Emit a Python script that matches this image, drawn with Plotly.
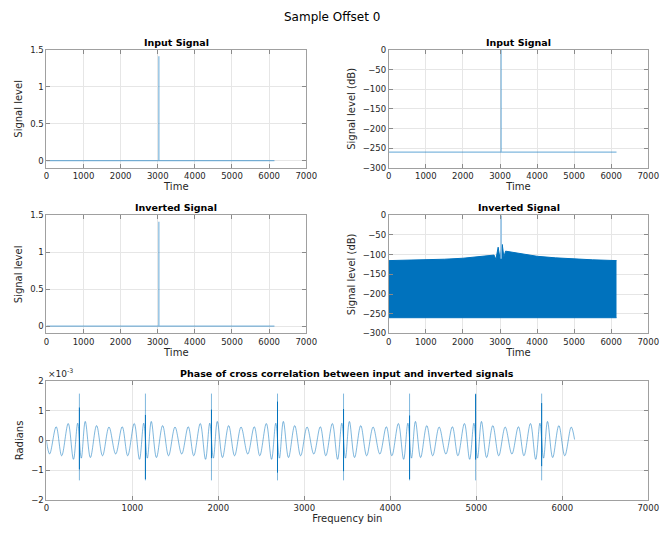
import plotly.graph_objects as go

FONT = "DejaVu Sans"
BLUE = "#0072BD"
LIGHT = "rgba(0,114,189,0.5)"

# ---- time-domain traces (sample index vs level) ----
time_samples = [0, 3029, 3030, 3031, 6143]
input_level = [0.0, 0.0, 1.414, 0.0, 0.0]
inverted_level = [0.0, 0.0, 1.414, 0.0, 0.0]
input_level_db = [-260, -260, 0, -260, -260]

# ---- inverted signal in dB: floor and upper envelope of the dense trace ----
inv_floor_bins = [0, 6143]
inv_floor_db = [-260, -260]
inv_env_bins = [0, 500, 1000, 1500, 2000, 2400, 2700, 2840, 2890, 2950, 2995,
                3015, 3060, 3105, 3150, 3300, 3500, 4000, 4500, 5000, 5500, 6143]
inv_env_db = [-115, -114, -113, -111.5, -109, -106, -103, -101, -112, -81, -107,
              -100, -74, -106, -91, -93, -97, -104, -108, -111, -113, -115]
inv_peak_bins = [3030, 3030]
inv_peak_db = [-110, 0]

# ---- phase of the cross correlation (x1e-3 rad), turning points of the ripple ----
phase_bins = [
    0, 38, 114, 178, 254, 315, 364, 406, 452, 512, 584, 653, 728,
    806, 882, 946, 1022, 1083, 1132, 1174, 1220, 1280, 1352, 1421, 1496,
    1574, 1650, 1714, 1790, 1851, 1900, 1942, 1988, 2048, 2120, 2189, 2264,
    2342, 2418, 2482, 2558, 2619, 2668, 2710, 2756, 2816, 2888, 2957, 3032,
    3110, 3186, 3250, 3326, 3387, 3436, 3478, 3524, 3584, 3656, 3725, 3800,
    3878, 3954, 4018, 4094, 4155, 4204, 4246, 4292, 4352, 4424, 4493, 4568,
    4646, 4722, 4786, 4862, 4923, 4972, 5014, 5060, 5120, 5192, 5261, 5336,
    5414, 5490, 5554, 5630, 5691, 5740, 5782, 5828, 5888, 5960, 6029, 6104,
    6143,
]
phase_mrad = [
    0.0, -0.46, 0.46, -0.52, 0.57, -0.64, 0.58, -0.60, 0.64, -0.58, 0.50, -0.52, 0.45,
    -0.46, 0.46, -0.52, 0.57, -0.64, 0.58, -0.60, 0.64, -0.58, 0.50, -0.52, 0.45,
    -0.46, 0.46, -0.52, 0.57, -0.64, 0.58, -0.60, 0.64, -0.58, 0.50, -0.52, 0.45,
    -0.46, 0.46, -0.52, 0.57, -0.64, 0.58, -0.60, 0.64, -0.58, 0.50, -0.52, 0.45,
    -0.46, 0.46, -0.52, 0.57, -0.64, 0.58, -0.60, 0.64, -0.58, 0.50, -0.52, 0.45,
    -0.46, 0.46, -0.52, 0.57, -0.64, 0.58, -0.60, 0.64, -0.58, 0.50, -0.52, 0.45,
    -0.46, 0.46, -0.52, 0.57, -0.64, 0.58, -0.60, 0.64, -0.58, 0.50, -0.52, 0.45,
    -0.46, 0.46, -0.52, 0.57, -0.64, 0.58, -0.60, 0.64, -0.58, 0.50, -0.52, 0.45,
    0.03,
]

# spikes in the phase trace
spike_bins = [384, 1152, 1920, 2688, 3456, 4224, 4992, 5760]
spike_top = [1.58, 1.58, 1.58, 1.58, 1.58, 1.58, 1.58, 1.58]
spike_bottom = [-1.35, -1.35, -1.35, -1.35, -1.35, -1.35, -1.35, -1.35]
spike_dense_top = [1.11, 0.86, 1.04, 1.31, 1.06, 0.84, 1.56, 1.26]
spike_dense_bottom = [-0.98, -1.31, -0.60, -1.09, -1.04, -1.31, -0.65, -0.87]

x_ticks = [0, 1000, 2000, 3000, 4000, 5000, 6000, 7000]


def vsegments(xs, lo, hi):
    px, py = [], []
    for x, a, b in zip(xs, lo, hi):
        px += [x, x, None]
        py += [a, b, None]
    return px, py


fig = go.Figure()

# panel 1: input signal, linear
fig.add_trace(go.Scatter(x=time_samples, y=input_level, mode="lines",
                         line=dict(color=LIGHT, width=1.2), xaxis="x", yaxis="y"))
# panel 2: input signal, dB
fig.add_trace(go.Scatter(x=time_samples, y=input_level_db, mode="lines",
                         line=dict(color=LIGHT, width=1.2), xaxis="x2", yaxis="y2"))
# panel 3: inverted signal, linear
fig.add_trace(go.Scatter(x=time_samples, y=inverted_level, mode="lines",
                         line=dict(color=LIGHT, width=1.2), xaxis="x3", yaxis="y3"))
# panel 4: inverted signal, dB (dense oscillation drawn as a filled band)
fig.add_trace(go.Scatter(x=inv_floor_bins, y=inv_floor_db, mode="lines",
                         line=dict(color=BLUE, width=1), xaxis="x4", yaxis="y4"))
fig.add_trace(go.Scatter(x=inv_env_bins, y=inv_env_db, mode="lines", fill="tonexty",
                         fillcolor=BLUE, line=dict(color=BLUE, width=1),
                         xaxis="x4", yaxis="y4"))
fig.add_trace(go.Scatter(x=inv_peak_bins, y=inv_peak_db, mode="lines",
                         line=dict(color="rgba(140,190,228,1)", width=1.5),
                         xaxis="x4", yaxis="y4"))
# panel 5: phase of cross correlation
fig.add_trace(go.Scatter(x=phase_bins, y=phase_mrad, mode="lines",
                         line=dict(color=LIGHT, width=1, shape="spline", smoothing=1.0),
                         xaxis="x5", yaxis="y5"))
sx, sy = vsegments(spike_bins, spike_bottom, spike_top)
fig.add_trace(go.Scatter(x=sx, y=sy, mode="lines", line=dict(color=LIGHT, width=1),
                         xaxis="x5", yaxis="y5"))
dx, dy = vsegments(spike_bins, spike_dense_bottom, spike_dense_top)
fig.add_trace(go.Scatter(x=dx, y=dy, mode="lines", line=dict(color=BLUE, width=1),
                         xaxis="x5", yaxis="y5"))

W, H = 672, 537
L1, R1 = 44.3 / W, 309.7 / W
L2, R2 = 394 / W, 659 / W
rows = [(45.7, 166.0), (214.3, 334.7), (383.3, 504.0)]

TICK_FONT = dict(family=FONT, size=8.5, color="#262626")
LABEL_FONT = dict(family=FONT, size=10, color="#262626")


def ydom(top, bot):
    return [1 - bot / H, 1 - top / H]


def axis_style(**kw):
    d = dict(showline=True, linecolor="#a0a0a0", linewidth=1, mirror="ticks",
             ticks="inside", ticklen=4, tickcolor="#8a8a8a", tickwidth=1,
             showgrid=True, gridcolor="#e6e6e6", gridwidth=1, zeroline=False,
             tickfont=TICK_FONT)
    d.update(kw)
    return d


def xax(domain, anchor, label):
    return axis_style(domain=domain, anchor=anchor, range=[0, 7000], tickvals=x_ticks,
                      title=dict(text=label, standoff=2, font=LABEL_FONT))


def yax(domain, anchor, rng, tv, label, tt=None):
    kw = dict(domain=domain, anchor=anchor, range=rng, tickvals=tv,
              title=dict(text=label, standoff=5, font=LABEL_FONT))
    if tt is not None:
        kw["ticktext"] = tt
    return axis_style(**kw)


lin_ticks = [0, 0.5, 1, 1.5]
lin_text = ["0", "0.5", "1", "1.5"]
db_ticks = [-300, -250, -200, -150, -100, -50, 0]
ph_ticks = [-2, -1, 0, 1, 2]

fig.update_layout(
    width=W, height=H, margin=dict(l=0, r=0, t=0, b=0),
    paper_bgcolor="white", plot_bgcolor="white", showlegend=False,
    font=dict(family=FONT, color="#262626"),
    xaxis=xax([L1, R1], "y", "Time"),
    yaxis=yax(ydom(*rows[0]), "x", [-0.1, 1.5], lin_ticks, "Signal level", lin_text),
    xaxis2=xax([L2, R2], "y2", "Time"),
    yaxis2=yax(ydom(*rows[0]), "x2", [-300, 0], db_ticks, "Signal level (dB)"),
    xaxis3=xax([L1, R1], "y3", "Time"),
    yaxis3=yax(ydom(*rows[1]), "x3", [-0.1, 1.5], lin_ticks, "Signal level", lin_text),
    xaxis4=xax([L2, R2], "y4", "Time"),
    yaxis4=yax(ydom(*rows[1]), "x4", [-300, 0], db_ticks, "Signal level (dB)"),
    xaxis5=xax([L1, R2], "y5", "Frequency bin"),
    yaxis5=yax(ydom(*rows[2]), "x5", [-2, 2], ph_ticks, "Radians"),
)

titles = [
    ("Input Signal", (L1 + R1) / 2, rows[0][0]),
    ("Input Signal", (L2 + R2) / 2, rows[0][0]),
    ("Inverted Signal", (L1 + R1) / 2, rows[1][0]),
    ("Inverted Signal", (L2 + R2) / 2, rows[1][0]),
    ("Phase of cross correlation between input and inverted signals", (L1 + R2) / 2, rows[2][0]),
]
ann = []
for text, xc, top in titles:
    ann.append(dict(text="<b>%s</b>" % text, x=xc, y=1 - top / H, xref="paper", yref="paper",
                    xanchor="center", yanchor="bottom", yshift=0, showarrow=False,
                    font=dict(family=FONT, size=9.5, color="black")))
ann.append(dict(text="Sample Offset 0", x=0.5, y=1 - 12.5 / H, xref="paper", yref="paper",
                xanchor="center", yanchor="middle", showarrow=False,
                font=dict(family=FONT, size=12, color="black")))
ann.append(dict(text="\u00d710<sup>-3</sup>", x=L1, y=1 - rows[2][0] / H, xref="paper",
                yref="paper", xanchor="left", yanchor="bottom", showarrow=False,
                font=dict(family=FONT, size=9, color="#262626")))
fig.update_layout(annotations=ann)

fig.write_html("out.html")
